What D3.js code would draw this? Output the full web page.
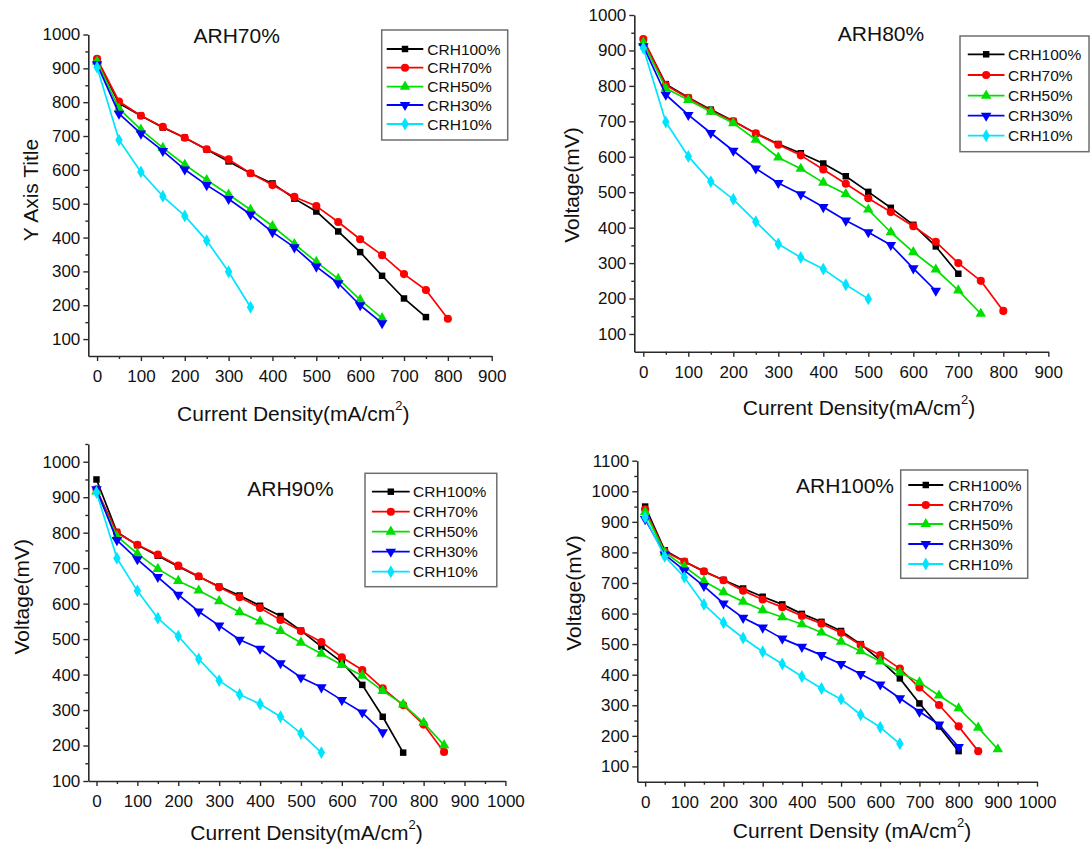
<!DOCTYPE html>
<html>
<head>
<meta charset="utf-8">
<script src="https://cdn.jsdelivr.net/npm/d3@7"></script>
<style>
  html, body { margin: 0; padding: 0; background: #fff; }
  svg { display: block; font-family: "Liberation Sans", Arial, Helvetica, sans-serif; }
</style>
</head>
<body>
<svg id="chart" width="1091" height="844"></svg>
<script>
// Current density steps (mA/cm2); each series uses the first N of them
const currentDensity = [0, 50, 100, 150, 200, 250, 300, 350, 400, 450, 500, 550, 600, 650, 700, 750, 800, 850, 900];

const seriesNames = ["CRH100%", "CRH70%", "CRH50%", "CRH30%", "CRH10%"];
const panelTitles = ["ARH70%", "ARH80%", "ARH90%", "ARH100%"];

// Voltage (mV), anode RH 70%
const arh70Crh100 = [925, 797, 760, 725, 695, 660, 625, 590, 560, 515, 477, 418, 357, 287, 220, 165];
const arh70Crh70  = [928, 802, 760, 727, 695, 661, 631, 590, 555, 520, 493, 446, 395, 348, 292, 245, 160];
const arh70Crh50  = [920, 781, 719, 665, 615, 570, 527, 482, 434, 381, 328, 278, 216, 162];
const arh70Crh30  = [912, 766, 707, 656, 601, 555, 514, 468, 416, 371, 314, 265, 200, 147];
const arh70Crh10  = [903, 688, 594, 522, 464, 391, 299, 194];

// Voltage (mV), anode RH 80%
const arh80Crh100 = [930, 805, 767, 733, 701, 666, 636, 610, 581, 545, 501, 456, 408, 347, 270];
const arh80Crh70  = [932, 802, 766, 730, 700, 666, 634, 604, 564, 524, 483, 444, 404, 360, 300, 250, 165];
const arh80Crh50  = [922, 793, 760, 727, 695, 648, 598, 566, 527, 495, 451, 387, 331, 282, 223, 157];
const arh80Crh30  = [912, 775, 718, 667, 617, 567, 526, 494, 458, 420, 387, 351, 285, 222];
const arh80Crh10  = [907, 698, 601, 530, 480, 417, 354, 316, 283, 239, 199];

// Voltage (mV), anode RH 90%
const arh90Crh100 = [950, 802, 765, 735, 705, 676, 648, 623, 594, 565, 524, 479, 435, 371, 281, 180];
const arh90Crh70  = [922, 800, 766, 738, 707, 677, 646, 618, 588, 554, 523, 492, 449, 413, 361, 314, 259, 182];
const arh90Crh50  = [916, 790, 741, 698, 664, 637, 607, 576, 550, 523, 490, 459, 427, 397, 354, 316, 264, 201];
const arh90Crh30  = [922, 779, 725, 675, 625, 578, 538, 498, 473, 432, 392, 364, 328, 293, 237];
const arh90Crh10  = [914, 728, 636, 559, 508, 444, 383, 344, 317, 281, 234, 180];

// Voltage (mV), anode RH 100%
const arh100Crh100 = [950, 807, 770, 738, 710, 682, 655, 630, 599, 573, 543, 500, 447, 388, 306, 231, 150];
const arh100Crh70  = [941, 803, 770, 738, 709, 675, 646, 621, 592, 567, 537, 497, 464, 420, 358, 301, 231, 150];
const arh100Crh50  = [932, 800, 754, 706, 670, 639, 611, 588, 565, 538, 508, 477, 443, 407, 375, 332, 290, 227, 156];
const arh100Crh30  = [909, 793, 741, 690, 633, 586, 554, 518, 491, 464, 435, 402, 368, 323, 279, 237, 163];
const arh100Crh10  = [915, 787, 719, 630, 570, 520, 475, 435, 394, 355, 320, 269, 228, 174];

// Axis tick values
const xTicks900 = [0, 100, 200, 300, 400, 500, 600, 700, 800, 900];
const xTicks1000 = [0, 100, 200, 300, 400, 500, 600, 700, 800, 900, 1000];
const yTicks1000 = [100, 200, 300, 400, 500, 600, 700, 800, 900, 1000];
const yTicks1100 = [100, 200, 300, 400, 500, 600, 700, 800, 900, 1000, 1100];

const panelData = [
  [arh70Crh100, arh70Crh70, arh70Crh50, arh70Crh30, arh70Crh10],
  [arh80Crh100, arh80Crh70, arh80Crh50, arh80Crh30, arh80Crh10],
  [arh90Crh100, arh90Crh70, arh90Crh50, arh90Crh30, arh90Crh10],
  [arh100Crh100, arh100Crh70, arh100Crh50, arh100Crh30, arh100Crh10]
];

const colors = ["#000000", "#ff0000", "#00e000", "#0000ff", "#00e5ff"];
const symbols = [
  { type: d3.symbolSquare, size: 42, rot: 0 },
  { type: d3.symbolCircle, size: 52, rot: 0 },
  { type: d3.symbolTriangle, size: 48, rot: 0 },
  { type: d3.symbolTriangle, size: 48, rot: 180 },
  { type: d3.symbolDiamond, size: 48, rot: 0 }
];

// Layout of each panel
const layouts = [
  { xr: [88.3, 491.7], yr: [356, 34.5], xd: [-20, 900], yd: [50, 1000], xt: xTicks900, yt: yTicks1000,
    title: [236.7, 35], yTitle: [30, 190], yLabel: "Y Axis Title", xTitle: [293.3, 413], xLabel: "Current Density(mA/cm",
    legend: { x: 381.7, y: 30, w: 126, h: 110, rows: [49, 67.7, 86.7, 105, 124], lx: [386.7, 423.3], tx: 427.3 } },
  { xr: [634.3, 1048.3], yr: [351.7, 15], xd: [-20, 900], yd: [50, 1000], xt: xTicks900, yt: yTicks1000,
    title: [881, 33], yTitle: [571, 185], yLabel: "Voltage(mV)", xTitle: [859, 406.7], xLabel: "Current Density(mA/cm",
    legend: { x: 960, y: 36, w: 129, h: 115.7, rows: [54.3, 75, 95.7, 115.7, 135.7], lx: [967.8, 1004.5], tx: 1008 } },
  { xr: [88.3, 505.4], yr: [781, 444], xd: [-20, 1000], yd: [100, 1050], xt: xTicks1000, yt: yTicks1000,
    title: [290.4, 488.3], yTitle: [21, 596.7], yLabel: "Voltage(mV)", xTitle: [306.5, 831.7], xLabel: "Current Density(mA/cm",
    legend: { x: 365, y: 473.3, w: 131.8, h: 113.4, rows: [491.7, 511.7, 531.7, 551.7, 571.7], lx: [371.9, 409.7], tx: 413.1 } },
  { xr: [637.3, 1037], yr: [781.7, 460.7], xd: [-20, 1000], yd: [50, 1100], xt: xTicks1000, yt: yTicks1100,
    title: [845, 485], yTitle: [573.4, 593], yLabel: "Voltage(mV)", xTitle: [852, 830], xLabel: "Current Density (mA/cm",
    legend: { x: 900.7, y: 470, w: 127, h: 108.3, rows: [485, 505, 524, 544, 564], lx: [908.3, 943.3], tx: 948.3 } }
];

const svg = d3.select("#chart");
const axisColor = "#2b2b2b";

function symbolPath(i) {
  return d3.symbol().type(symbols[i].type).size(symbols[i].size)();
}

layouts.forEach((L, p) => {
  const g = svg.append("g");
  const x = d3.scaleLinear().domain(L.xd).range(L.xr);
  const y = d3.scaleLinear().domain(L.yd).range(L.yr);

  const xMinor = L.xt.slice(0, -1).map(v => v + 50);
  const yMinor = L.yt.slice(0, -1).map(v => v + 50);
  if (L.yd[1] > L.yt[L.yt.length - 1]) yMinor.push(L.yt[L.yt.length - 1] + 50);

  // x axis
  const xa = g.append("g").attr("transform", `translate(0,${L.yr[0]})`)
    .call(d3.axisBottom(x).tickValues(L.xt).tickSize(5).tickSizeOuter(0).tickPadding(9).tickFormat(d3.format("d")));
  g.append("g").attr("transform", `translate(0,${L.yr[0]})`)
    .call(d3.axisBottom(x).tickValues(xMinor).tickSize(3).tickSizeOuter(0).tickFormat(""))
    .call(s => s.select(".domain").remove());

  // y axis
  const ya = g.append("g").attr("transform", `translate(${L.xr[0]},0)`)
    .call(d3.axisLeft(y).tickValues(L.yt).tickSize(5).tickSizeOuter(0).tickPadding(3).tickFormat(d3.format("d")));
  g.append("g").attr("transform", `translate(${L.xr[0]},0)`)
    .call(d3.axisLeft(y).tickValues(yMinor).tickSize(3).tickSizeOuter(0).tickFormat(""))
    .call(s => s.select(".domain").remove());

  g.selectAll(".domain").attr("stroke", axisColor).attr("stroke-width", 1.6);
  g.selectAll(".tick line").attr("stroke", axisColor).attr("stroke-width", 1.4);
  g.selectAll(".tick text").attr("fill", "#111").style("font-size", "17px")
    .style("font-family", '"Liberation Sans", Arial, Helvetica, sans-serif');

  // series
  panelData[p].forEach((vals, s) => {
    const pts = vals.map((v, i) => [currentDensity[i], v]);
    g.append("path")
      .datum(pts)
      .attr("fill", "none")
      .attr("stroke", colors[s])
      .attr("stroke-width", 1.7)
      .attr("stroke-linejoin", "round")
      .attr("d", d3.line().x(d => x(d[0])).y(d => y(d[1])));
    g.append("g").selectAll("path")
      .data(pts)
      .join("path")
      .attr("d", symbolPath(s))
      .attr("fill", colors[s])
      .attr("transform", d => `translate(${x(d[0])},${y(d[1])}) rotate(${symbols[s].rot})`);
  });

  // title
  g.append("text")
    .attr("x", L.title[0]).attr("y", L.title[1])
    .attr("text-anchor", "middle").attr("dominant-baseline", "central")
    .style("font-size", "21px").attr("fill", "#111")
    .text(panelTitles[p]);

  // y axis title
  g.append("text")
    .attr("transform", `translate(${L.yTitle[0]},${L.yTitle[1]}) rotate(-90)`)
    .attr("text-anchor", "middle").attr("dominant-baseline", "central")
    .style("font-size", "21px").attr("fill", "#111")
    .text(L.yLabel);

  // x axis title with superscript
  const xt = g.append("text")
    .attr("x", L.xTitle[0]).attr("y", L.xTitle[1])
    .attr("text-anchor", "middle").attr("dominant-baseline", "central")
    .style("font-size", "21px").attr("fill", "#111");
  xt.append("tspan").text(L.xLabel);
  xt.append("tspan").attr("dy", -8).style("font-size", "13px").text("2");
  xt.append("tspan").attr("dy", 8).text(")");

  // legend
  const lg = L.legend;
  g.append("rect")
    .attr("x", lg.x).attr("y", lg.y).attr("width", lg.w).attr("height", lg.h)
    .attr("fill", "#fff").attr("stroke", "#6e6e6e").attr("stroke-width", 1.5);
  seriesNames.forEach((name, s) => {
    const ry = lg.rows[s];
    g.append("line")
      .attr("x1", lg.lx[0]).attr("x2", lg.lx[1]).attr("y1", ry).attr("y2", ry)
      .attr("stroke", colors[s]).attr("stroke-width", 1.8);
    g.append("path")
      .attr("d", symbolPath(s))
      .attr("fill", colors[s])
      .attr("transform", `translate(${(lg.lx[0] + lg.lx[1]) / 2},${ry}) rotate(${symbols[s].rot})`);
    g.append("text")
      .attr("x", lg.tx).attr("y", ry)
      .attr("dominant-baseline", "central")
      .style("font-size", "15.5px").attr("fill", "#111")
      .text(name);
  });
});
</script>
</body>
</html>
